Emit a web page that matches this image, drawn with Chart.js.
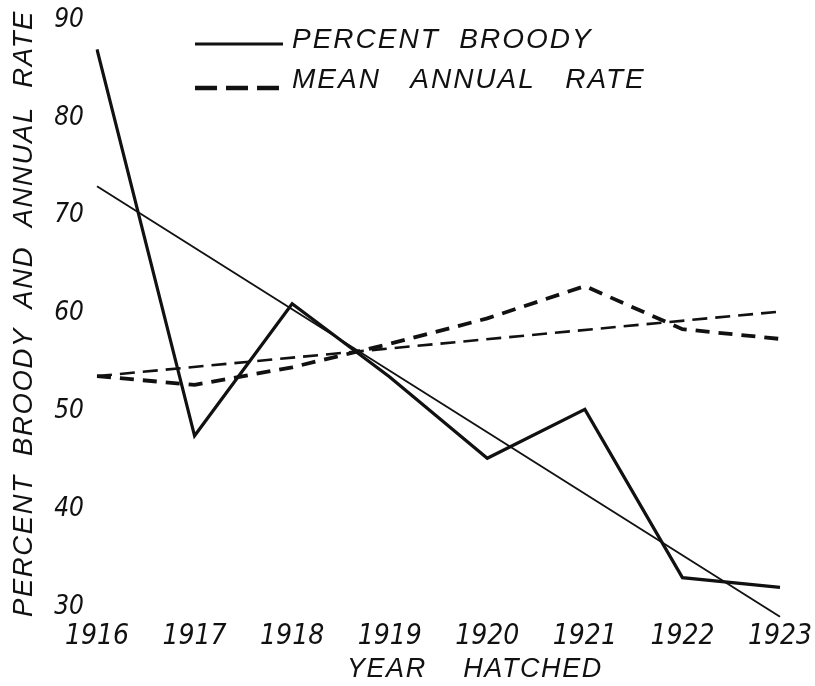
<!DOCTYPE html>
<html>
<head>
<meta charset="utf-8">
<script src="https://cdn.jsdelivr.net/npm/chart.js@4/dist/chart.umd.min.js"></script>
<style>
  html, body { margin: 0; padding: 0; background: #fff; }
  #wrap { width: 815px; height: 686px; }
</style>
</head>
<body>
<div id="wrap"><canvas id="c" width="815" height="686"></canvas></div>
<script>
// Year of hatching
const years = ['1916', '1917', '1918', '1919', '1920', '1921', '1922', '1923'];
// Percent of hens going broody, by year hatched
const percentBroody = [87, 47.5, 61, 53.5, 45.2, 50.2, 33, 32];
// Fitted straight line through the broody percentages (end points only)
const broodyTrend = [73, null, null, null, null, null, null, 29];
// Mean annual egg rate, by year hatched
const meanAnnualRate = [53.6, 52.7, 54.5, 56.9, 59.5, 62.8, 58.4, 57.4];
// Fitted straight line through the annual rates (end points only)
const rateTrend = [53.6, null, null, null, null, null, null, 60.2];
// Value axis ticks
const yTicks = [30, 40, 50, 60, 70, 80, 90];
const yTitle = 'PERCENT  BROODY  AND  ANNUAL  RATE';
const xTitle = '        YEAR    HATCHED';

const INK = '#111';
const LETTERING = "'Liberation Sans', 'DejaVu Sans', sans-serif";
const NARROW = "'Liberation Sans Narrow', 'DejaVu Sans Condensed', 'Liberation Sans', sans-serif";

// Legend drawn inside the plot, top centre; also sets the spaced lettering of the axis titles
const insideLegend = {
  id: 'insideLegend',
  beforeDraw(chart) {
    chart.ctx.letterSpacing = '1.6px';
  },
  beforeDatasetsDraw(chart) {
    chart.ctx.letterSpacing = '0px';
  },
  afterDraw(chart) {
    const ctx = chart.ctx;
    const rows = [
      { ds: chart.data.datasets[0], y: 44, ty: 40, dash: [], width: 3 },
      { ds: chart.data.datasets[2], y: 88, ty: 80, dash: [22, 9], width: 4.5 }
    ];
    ctx.save();
    rows.forEach(r => {
      ctx.beginPath();
      ctx.setLineDash(r.dash);
      ctx.lineWidth = r.width;
      ctx.strokeStyle = INK;
      ctx.moveTo(195, r.y);
      ctx.lineTo(283, r.y);
      ctx.stroke();
      ctx.setLineDash([]);
      ctx.letterSpacing = '2px';
      ctx.font = "italic 28px " + LETTERING;
      ctx.fillStyle = INK;
      ctx.textAlign = 'left';
      ctx.textBaseline = 'middle';
      ctx.fillText(r.ds.label, 292, r.ty);
    });
    ctx.restore();
    ctx.letterSpacing = '0px';
  }
};

new Chart(document.getElementById('c'), {
  type: 'line',
  data: {
    labels: years,
    datasets: [
      {
        label: 'PERCENT  BROODY',
        data: percentBroody,
        borderColor: INK,
        borderWidth: 3.2,
        pointRadius: 0,
        tension: 0,
        borderJoinStyle: 'miter'
      },
      {
        label: 'broody trend',
        data: broodyTrend,
        spanGaps: true,
        clip: false,
        borderColor: INK,
        borderWidth: 1.9,
        pointRadius: 0
      },
      {
        label: 'MEAN   ANNUAL   RATE',
        data: meanAnnualRate,
        borderColor: INK,
        borderWidth: 3.8,
        borderDash: [14, 9],
        pointRadius: 0,
        tension: 0
      },
      {
        label: 'rate trend',
        data: rateTrend,
        spanGaps: true,
        borderColor: INK,
        borderWidth: 2.6,
        borderDash: [15, 8],
        pointRadius: 0
      }
    ]
  },
  options: {
    responsive: false,
    devicePixelRatio: 1,
    animation: false,
    layout: { padding: { top: 20, right: 35, bottom: 0, left: 0 } },
    plugins: {
      legend: { display: false },
      tooltip: { enabled: false }
    },
    scales: {
      x: {
        type: 'category',
        offset: false,
        grid: { display: false, drawTicks: false },
        border: { display: false },
        ticks: {
          z: 1,
          color: INK,
          padding: 13,
          maxRotation: 0,
          autoSkip: false,
          font: { family: NARROW, size: 28, style: 'italic' }
        },
        title: {
          display: true,
          text: xTitle,
          color: INK,
          padding: { top: 0, bottom: 0 },
          font: { family: LETTERING, size: 27, style: 'italic' }
        },
        afterFit(scale) {
          scale.height = 79;
          scale.paddingLeft = 0;
          scale.paddingRight = 0;
        }
      },
      y: {
        min: 30,
        max: 90,
        grid: { display: false, drawTicks: false },
        border: { display: false },
        afterBuildTicks(scale) { scale.ticks = yTicks.map(v => ({ value: v })); },
        ticks: {
          z: 1,
          color: INK,
          padding: 13,
          font: { family: NARROW, size: 26, style: 'italic' }
        },
        title: {
          display: true,
          text: yTitle,
          color: INK,
          padding: { top: 8, bottom: 0 },
          font: { family: LETTERING, size: 27.5, style: 'italic' }
        },
        afterFit(scale) {
          scale.width = 97;
          scale.paddingTop = 0;
          scale.paddingBottom = 0;
        }
      }
    }
  },
  plugins: [insideLegend]
});
</script>
</body>
</html>
